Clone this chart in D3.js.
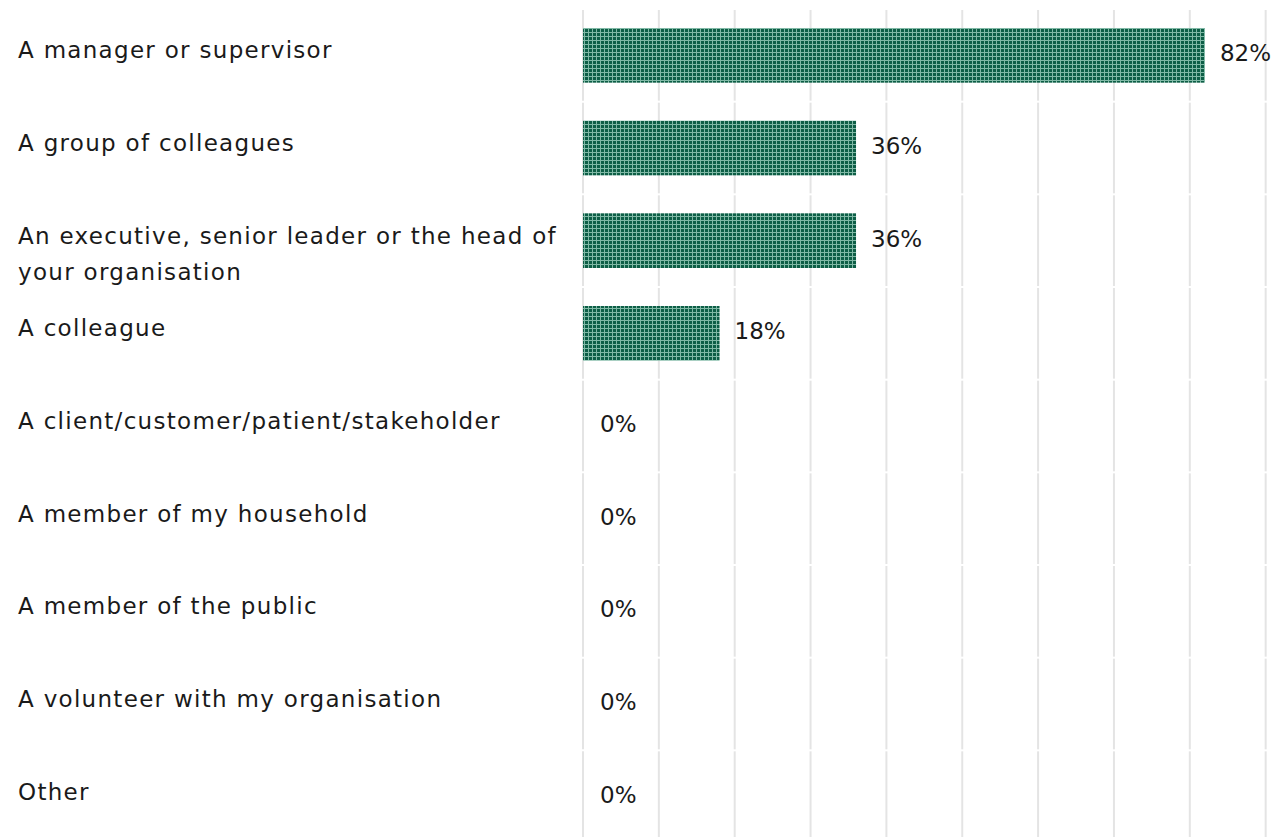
<!DOCTYPE html>
<html>
<head>
<meta charset="utf-8">
<script src="https://cdn.jsdelivr.net/npm/d3@7"></script>
<style>
  html, body { margin: 0; padding: 0; background: #fff; }
  svg { display: block; }
  text { font-family: "DejaVu Sans", "Noto Sans", sans-serif; fill: #1a1a1a; }
</style>
</head>
<body>
<svg id="chart" width="1279" height="837"></svg>
<script>
// Who was involved — share of responses
const categories = [
  "A manager or supervisor",
  "A group of colleagues",
  "An executive, senior leader or the head of your organisation",
  "A colleague",
  "A client/customer/patient/stakeholder",
  "A member of my household",
  "A member of the public",
  "A volunteer with my organisation",
  "Other"
];
const values = [82, 36, 36, 18, 0, 0, 0, 0, 0];
const gridTicks = [0, 10, 20, 30, 40, 50, 60, 70, 80, 90, 100];

const margin = { top: 9, left: 583 };
const plotBottom = 843;

const svg = d3.select("#chart");

// Hatched fill for the bars
const defs = svg.append("defs");
const pat = defs.append("pattern")
  .attr("id", "hatch")
  .attr("patternUnits", "userSpaceOnUse")
  .attr("width", 4).attr("height", 4);
pat.append("rect").attr("width", 4).attr("height", 4).attr("fill", "#0d5e46");
pat.append("rect").attr("x", 0).attr("y", 0).attr("width", 1).attr("height", 4).attr("fill", "#80b9a6");
pat.append("rect").attr("x", 0).attr("y", 0).attr("width", 4).attr("height", 1).attr("fill", "#80b9a6");

const x = d3.scaleLinear().domain([0, 100]).range([margin.left, margin.left + 758.5]);
const y = d3.scaleBand().domain(categories).range([margin.top, plotBottom]);
const barPad = 0.41;

// Vertical gridlines, broken at each row boundary
const grid = svg.append("g");
categories.forEach(c => {
  grid.selectAll(null)
    .data(gridTicks)
    .join("line")
    .attr("x1", d => x(d)).attr("x2", d => x(d))
    .attr("y1", y(c) + 1).attr("y2", y(c) + y.bandwidth() - 1)
    .attr("stroke", "#e4e4e4")
    .attr("stroke-width", 2);
});

const rows = values.map((v, i) => ({ c: categories[i], v }));

// Bars
const bh = y.bandwidth() * (1 - barPad);
svg.append("g").selectAll("rect")
  .data(rows)
  .join("rect")
  .attr("x", x(0))
  .attr("y", d => y(d.c) + (y.bandwidth() - bh) / 2)
  .attr("width", d => x(d.v) - x(0))
  .attr("height", bh)
  .attr("fill", "url(#hatch)");

// Value labels
svg.append("g").selectAll("text")
  .data(rows)
  .join("text")
  .attr("x", d => x(d.v) + (d.v > 0 ? 15 : 17))
  .attr("y", d => y(d.c) + y.bandwidth() / 2 - 2)
  .attr("dy", "0.35em")
  .attr("font-size", 23)
  .text(d => d.v + "%");

// Category labels, wrapped to the label column
const maxW = 560;
const labels = svg.append("g");
categories.forEach(c => {
  const t = labels.append("text")
    .attr("x", 18)
    .attr("y", y(c) + y.bandwidth() / 2 - 5)
    .attr("font-size", 23)
    .attr("letter-spacing", 1.3);
  const words = c.split(" ");
  let line = [];
  let ts = t.append("tspan").attr("x", 18).attr("dy", "0.35em");
  words.forEach(w => {
    line.push(w);
    ts.text(line.join(" "));
    if (ts.node().getComputedTextLength() > maxW && line.length > 1) {
      line.pop();
      ts.text(line.join(" "));
      line = [w];
      ts = t.append("tspan").attr("x", 18).attr("dy", 36).text(w);
    }
  });
});
</script>
</body>
</html>
